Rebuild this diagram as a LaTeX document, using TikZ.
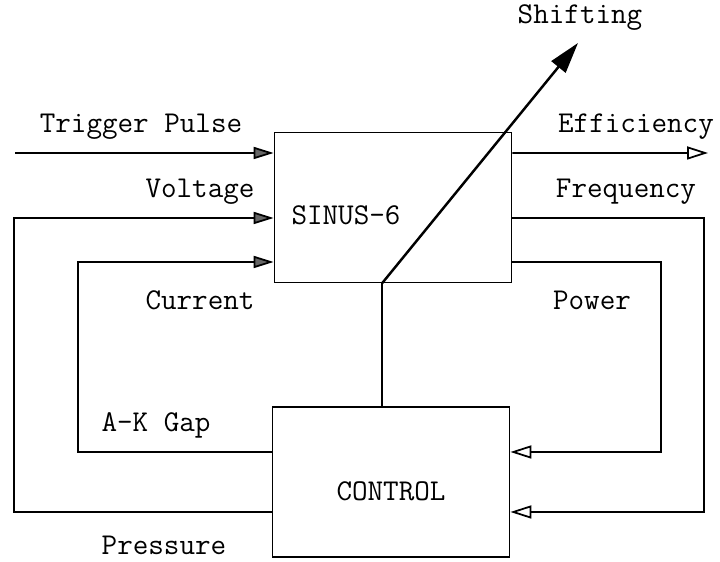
\documentclass[tikz,border=0pt]{standalone}
\usetikzlibrary{arrows.meta,positioning}

\begin{document}
\begin{tikzpicture}[
    block/.style={rectangle, draw, line width=1pt, minimum width=4.74cm, minimum height=3cm},
    lbl/.style={font=\ttfamily\fontsize{17.2}{20}\selectfont, inner sep=0pt},
    inarrow/.style={-{Triangle[length=0.4cm, width=0.24cm, fill=black!60]}, line width=1pt},
    outarrow/.style={-{Triangle[open, length=0.42cm, width=0.26cm, line width=1pt]}, line width=1pt},
    line/.style={line width=1pt}
]
\useasboundingbox (0,0) rectangle (14.4,11.24);

% Main blocks
\node[block] (sinus) at (7.86,7.09) {};
\node[block] (ctrl) at (7.82,1.6) {};
\node[lbl] (sinuslbl) at (6.92,6.94) {SINUS-6};
\node[lbl] (ctrllbl) at (7.82,1.42) {CONTROL};

% ports
\coordinate (trig) at (0.3,8.18);
\coordinate (vin) at ([yshift=-0.21cm]sinus.west);
\coordinate (cin) at ([yshift=-1.09cm]sinus.west);
\coordinate (eout) at ([yshift=1.09cm]sinus.east);
\coordinate (fout) at ([yshift=-0.21cm]sinus.east);
\coordinate (pout) at ([yshift=-1.09cm]sinus.east);
\coordinate (gapout) at ([yshift=0.6cm]ctrl.west);
\coordinate (presout) at ([yshift=-0.6cm]ctrl.west);
\coordinate (powin) at ([yshift=0.6cm]ctrl.east);
\coordinate (freqin) at ([yshift=-0.6cm]ctrl.east);
\coordinate (eend) at (14.16,8.18);
\coordinate (xv) at (0.28,0);
\coordinate (xc) at (1.56,0);
\coordinate (xf) at (14.08,0);
\coordinate (xp) at (13.22,0);
\coordinate (sbase) at ([xshift=-0.22cm]sinus.south);
\coordinate (stip) at (11.56,10.38);

% inputs of SINUS-6
\draw[inarrow] (trig) -- (trig -| sinus.west);
\draw[inarrow] (presout) -| (xv |- vin) -- (vin);
\draw[inarrow] (gapout) -| (xc |- cin) -- (cin);

% outputs of SINUS-6
\draw[outarrow] (eout) -- (eend);
\draw[outarrow] (fout) -| (xf |- freqin) -- (freqin);
\draw[outarrow] (pout) -| (xp |- powin) -- (powin);

% shifting
\draw[line] (ctrl.north -| sbase) -- (sbase);
\draw[line width=1.4pt, -{Triangle[length=0.62cm, width=0.36cm]}] (sbase) -- (stip);

% labels
\node[lbl] (shift) at (11.6,10.88) {Shifting};
\node[lbl] (trigl) at (2.82,8.7) {Trigger Pulse};
\node[lbl] (voltl) at (4.0,7.4) {Voltage};
\node[lbl] (currl) at (4.0,5.24) {Current};
\node[lbl] (gapl) at (3.12,2.74) {A-K Gap};
\node[lbl] (presl) at (3.28,0.34) {Pressure};
\node[lbl] (effl) at (12.72,8.7) {Efficiency};
\node[lbl] (freql) at (12.52,7.4) {Frequency};
\node[lbl] (powl) at (11.84,5.24) {Power};

\end{tikzpicture}
\end{document}
